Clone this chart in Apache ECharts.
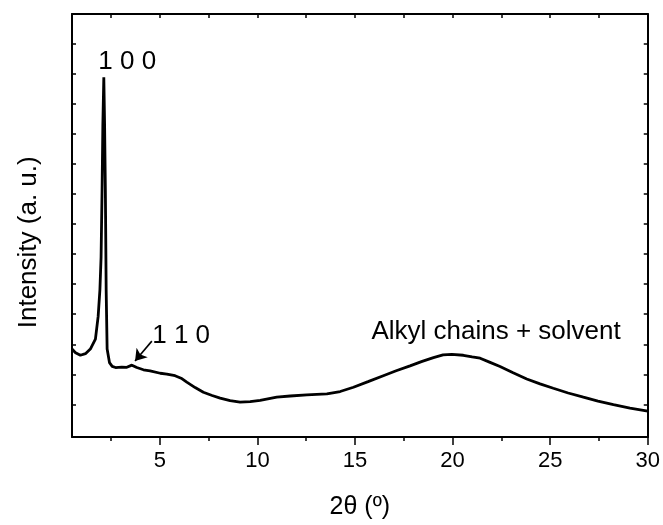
<!DOCTYPE html>
<html><head><meta charset="utf-8">
<script src="https://cdn.jsdelivr.net/npm/echarts@6/dist/echarts.min.js"></script>
<style>html,body{margin:0;padding:0;background:#fff;overflow:hidden}#c{width:663px;height:525px}</style>
</head><body><div id="c"></div>
<script>
const twoTheta = [0.5, 0.68, 0.93, 1.19, 1.44, 1.70, 1.84, 1.93, 1.99, 2.04, 2.08, 2.13, 2.17, 2.21, 2.25, 2.30, 2.42, 2.56, 2.73, 3.05, 3.31, 3.57, 3.82, 4.16, 4.50, 5.02, 5.36, 5.78, 6.09, 6.38, 6.81, 7.23, 7.68, 8.09, 8.60, 9.11, 9.63, 10.14, 10.99, 11.68, 12.53, 13.56, 14.24, 14.92, 15.67, 16.45, 17.11, 17.82, 18.44, 19.02, 19.51, 19.96, 20.55, 21.0, 21.41, 21.92, 22.43, 23.10, 23.80, 24.48, 25.16, 25.92, 26.70, 27.45, 28.24, 29.09, 30.0];
const intensity = [89, 85.3, 82.7, 84.3, 89, 99, 122, 149, 182, 249, 315, 364, 316, 249, 149, 89, 75.3, 71.5, 70.3, 70.8, 70.5, 72.7, 70.3, 68, 67, 64.5, 63.7, 62, 59.5, 55.5, 50, 45.3, 42, 39.3, 36.7, 35.3, 35.7, 37, 40.3, 41.5, 42.7, 43.7, 46, 50.3, 56, 62, 67, 72, 76.5, 80.3, 83, 83.7, 82.7, 81, 79.7, 75.5, 71.3, 65, 58.7, 53.7, 49.3, 44.5, 40.3, 36.3, 32.7, 29.3, 26.3];
const xMajorTicks = [5, 10, 15, 20, 25, 30];
const xMinorTicks = [2.5, 7.5, 12.5, 17.5, 22.5, 27.5];
const xTopTicks = [2.5, 5, 7.5, 10, 12.5, 15, 17.5, 20, 22.5, 25, 27.5];
const yTicks = [33, 63.4, 93.8, 124.3, 154.7, 185.1, 215.5, 245.9, 276.4, 306.8, 337.2, 367.6, 398];
const noteTexts = ['1 0 0', '1 1 0', 'Alkyl chains + solvent'];
const noteAnchors = [[1.85, 380], [4.61, 102.7], [15.84, 106]];
const arrowFrom = [4.59, 97];
const arrowTo = [3.73, 77];
const yTitle = 'Intensity (a. u.)';
const yTitleCenter = [-1.73, 197];

const FONT = 'Liberation Sans, Arial, Helvetica, sans-serif';
const chart = echarts.init(document.getElementById('c'), null, {renderer: 'canvas', width: 663, height: 525});
const lineData = twoTheta.map((x, i) => [x, intensity[i]]);
const axisLine = {show: true, lineStyle: {color: '#000', width: 2}};
chart.setOption({
  animation: false,
  backgroundColor: '#fff',
  grid: {left: 72, right: 15, top: 14, bottom: 83, containLabel: false},
  xAxis: [
    {type: 'value', position: 'bottom', min: 0.5, max: 30,
     axisLine: axisLine,
     axisTick: {show: true, customValues: xMajorTicks, length: 8, inside: false, lineStyle: {color: '#000', width: 1.5}},
     axisLabel: {show: true, customValues: xMajorTicks, color: '#000', fontSize: 22, fontFamily: FONT, margin: 13},
     splitLine: {show: false},
     name: '2θ (º)', nameLocation: 'middle', nameGap: 58,
     nameTextStyle: {color: '#000', fontSize: 25, fontFamily: FONT}},
    {type: 'value', position: 'bottom', min: 0.5, max: 30,
     axisLine: {show: false},
     axisTick: {show: true, customValues: xMinorTicks, length: 4, inside: false, lineStyle: {color: '#000', width: 1.5}},
     axisLabel: {show: false}, splitLine: {show: false}},
    {type: 'value', position: 'top', min: 0.5, max: 30,
     axisLine: axisLine,
     axisTick: {show: true, customValues: xTopTicks, length: 4, inside: true, lineStyle: {color: '#000', width: 1.5}},
     axisLabel: {show: false}, splitLine: {show: false}}
  ],
  yAxis: [
    {type: 'value', position: 'left', min: 0, max: 428,
     axisLine: axisLine,
     axisTick: {show: true, customValues: yTicks, length: 4, inside: true, lineStyle: {color: '#000', width: 1.5}},
     axisLabel: {show: false}, splitLine: {show: false}},
    {type: 'value', position: 'right', min: 0, max: 428,
     axisLine: axisLine,
     axisTick: {show: true, customValues: yTicks, length: 4, inside: true, lineStyle: {color: '#000', width: 1.5}},
     axisLabel: {show: false}, splitLine: {show: false}}
  ],
  series: [
    {type: 'line', xAxisIndex: 0, yAxisIndex: 0, data: lineData, showSymbol: false, symbol: 'none',
     lineStyle: {color: '#000', width: 2.8}, clip: true, z: 3},
    {type: 'lines', coordinateSystem: 'cartesian2d', xAxisIndex: 0, yAxisIndex: 0,
     symbol: ['none', 'arrow'], symbolSize: 11,
     lineStyle: {color: '#000', width: 1.6, opacity: 1},
     data: [{coords: [arrowFrom, arrowTo]}], z: 4}
  ]
});
const g = noteAnchors.map((p, i) => {
  const px = chart.convertToPixel({xAxisIndex: 0, yAxisIndex: 0}, p);
  return {type: 'text', x: px[0], y: px[1], z: 10,
    style: {text: noteTexts[i], fill: '#000', font: '26px ' + FONT, align: 'left', verticalAlign: 'middle'}};
});
const tp = chart.convertToPixel({xAxisIndex: 0, yAxisIndex: 0}, yTitleCenter);
g.push({type: 'text', x: tp[0], y: tp[1], rotation: Math.PI / 2, z: 10,
  style: {text: yTitle, fill: '#000', font: '26px ' + FONT, align: 'center', verticalAlign: 'middle'}});
chart.setOption({graphic: g});
</script></body></html>
